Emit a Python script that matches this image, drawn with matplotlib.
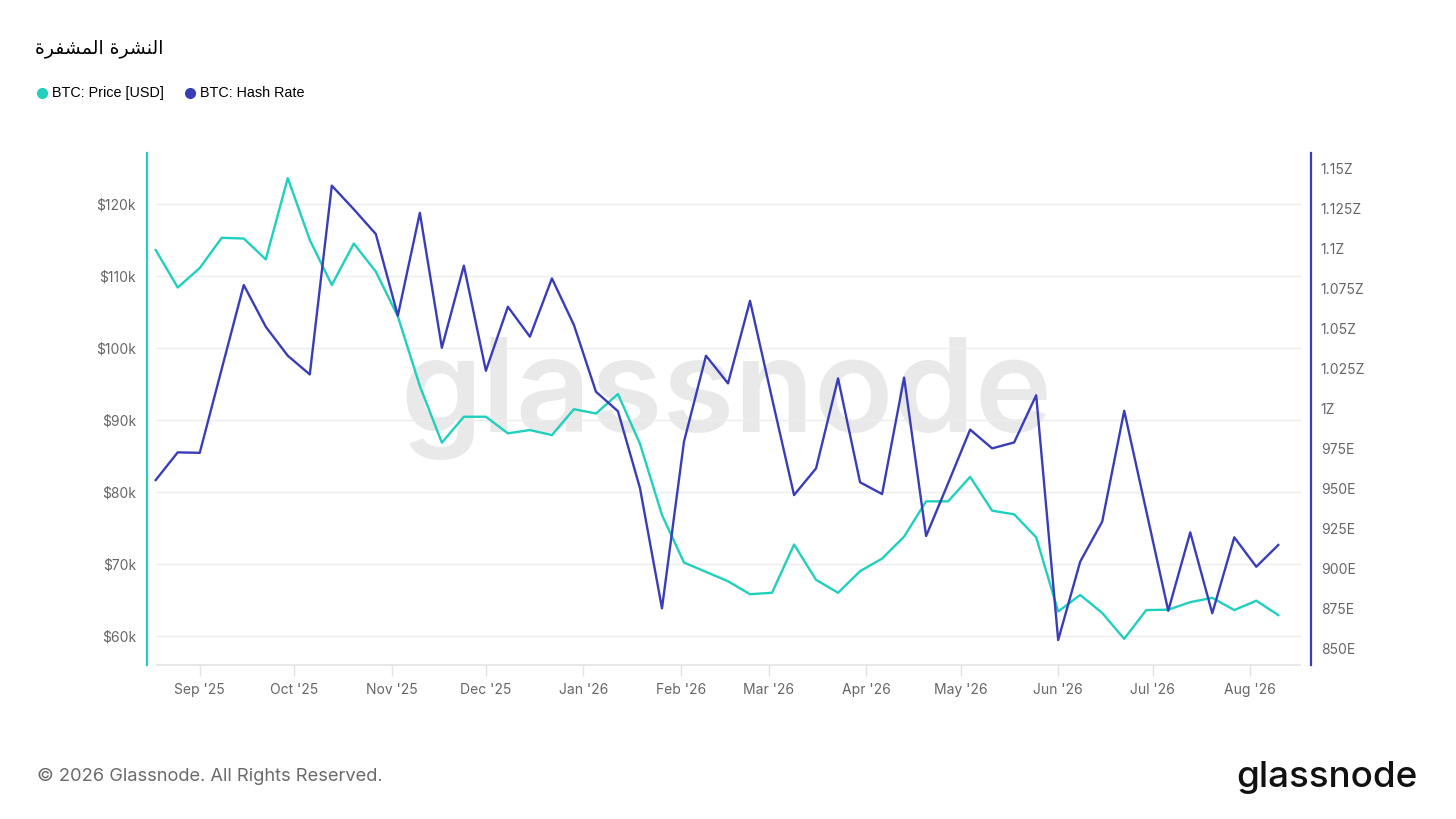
import numpy as np
import pandas as pd
import matplotlib
matplotlib.use("Agg")
import matplotlib.pyplot as plt
import matplotlib.dates as mdates
from matplotlib.ticker import FuncFormatter, MultipleLocator

# data (weekly)
title = "النشرة المشفرة"
series_names = ["BTC: Price [USD]", "BTC: Hash Rate"]
dates = pd.date_range("2025-08-18", periods=52, freq="7D")

# BTC price, thousands of USD
price_k = [113.6, 108.4, 111.1, 115.3, 115.2, 112.3, 123.6, 115.0, 108.75, 114.5,
           110.6, 104.4, 94.7, 86.85, 90.45, 90.45, 88.15, 88.6, 87.9, 91.5,
           90.9, 93.6, 86.7, 76.8, 70.2, 68.9, 67.6, 65.8, 66.0, 72.7,
           67.8, 66.0, 69.0, 70.75, 73.8, 78.7, 78.7, 82.1, 77.4, 76.9,
           73.7, 63.4, 65.7, 63.2, 59.6, 63.6, 63.65, 64.7, 65.3, 63.6,
           64.9, 62.9]

# hash rate, EH/s
hash_e = [955, 972.3, 972, 1024.5, 1076.9, 1050.8, 1032.7, 1021, 1139, 1124.2,
          1108.75, 1057.7, 1122, 1037.7, 1089, 1023.3, 1063.3, 1044.6, 1081, 1051.9,
          1010.2, 998, 950, 874.8, 979, 1032.7, 1015.4, 1067, 1006, 945.6,
          962.3, 1018.5, 953.6, 946.25, 1019, 920, 953, 986.5, 974.8, 978.5,
          1008, 855, 904, 929, 998.3, 935.8, 873.3, 922.3, 871.7, 919.2,
          900.8, 914.4]

price_ticks = [60, 70, 80, 90, 100, 110, 120]
hash_ticks = list(range(850, 1151, 25))

TEAL = "#1fd0bd"
BLUE = "#3a3db8"
GRID = "#ededed"
TICKC = "#666666"


# matplotlib has no arabic shaping, so pick presentation forms by hand
FORMS = {
    # isolated, final, initial, medial
    'ا': ('\uFE8D', '\uFE8E', None, None),
    'ل': ('\uFEDD', '\uFEDE', '\uFEDF', '\uFEE0'),
    'ن': ('\uFEE5', '\uFEE6', '\uFEE7', '\uFEE8'),
    'ش': ('\uFEB5', '\uFEB6', '\uFEB7', '\uFEB8'),
    'ر': ('\uFEAD', '\uFEAE', None, None),
    'ة': ('\uFE93', '\uFE94', None, None),
    'م': ('\uFEE1', '\uFEE2', '\uFEE3', '\uFEE4'),
    'ف': ('\uFED1', '\uFED2', '\uFED3', '\uFED4'),
}


def shape_arabic(s):
    out = []
    for i, c in enumerate(s):
        if c not in FORMS:
            out.append(c)
            continue
        prev = s[i - 1] if i > 0 else None
        nxt = s[i + 1] if i < len(s) - 1 else None
        join_prev = prev in FORMS and FORMS[prev][2] is not None
        join_next = FORMS[c][2] is not None and nxt in FORMS
        if join_prev and join_next:
            out.append(FORMS[c][3])
        elif join_prev:
            out.append(FORMS[c][1])
        elif join_next:
            out.append(FORMS[c][2])
        else:
            out.append(FORMS[c][0])
    return "".join(out)[::-1]


W, H = 1456, 819
fig = plt.figure(figsize=(W / 100, H / 100), dpi=100)
fig.patch.set_facecolor("white")

# plot box in pixels: left 147, right 1311, top 153, bottom 665
ax = fig.add_axes([147 / W, 1 - 665 / H, (1311 - 147) / W, (665 - 153) / H])
ax2 = ax.twinx()

day = pd.Timedelta(days=1)
x0 = dates[0] - 2.77 * day
x1 = dates[-1] + 10.4 * day
grid_end = dates[-1] + 7.1 * day

ax.set_xlim(x0, x1)
ax.set_ylim(55.97, 127.08)
ax2.set_ylim(839.4, 1159.4)

# watermark under the lines
ax.text(0.498, 0.52, "glassnode", transform=ax.transAxes, ha="center", va="center",
        fontsize=94, fontfamily="Inter", fontweight="semibold", color="#e9e9e9", zorder=0)

for v in price_ticks:
    ax.hlines(v, dates[0], grid_end, color=GRID, lw=1, zorder=1)
ax.hlines(ax.get_ylim()[0], dates[0], grid_end, color="#e3e3e3", lw=1.2, zorder=1, clip_on=False)

ax.plot(dates, price_k, color=TEAL, lw=1.7, zorder=3)
ax2.plot(dates, hash_e, color=BLUE, lw=1.7, zorder=3)

# spines
for s in ["top", "right", "bottom"]:
    ax.spines[s].set_visible(False)
ax.spines["left"].set_color(TEAL)
ax.spines["left"].set_linewidth(1.6)
for s in ["top", "left", "bottom"]:
    ax2.spines[s].set_visible(False)
ax2.spines["right"].set_color(BLUE)
ax2.spines["right"].set_linewidth(1.6)

# x axis
ax.xaxis.set_major_locator(mdates.MonthLocator())
ax.xaxis.set_major_formatter(mdates.DateFormatter("%b '%y"))
ax.tick_params(axis="x", length=8, width=1, color="#e3e3e3", pad=5,
               labelsize=10, labelcolor=TICKC)

# y axes
ax.set_yticks(price_ticks)
ax.yaxis.set_major_formatter(FuncFormatter(lambda v, p: f"${v:g}k"))
ax.tick_params(axis="y", length=0, pad=8, labelsize=10, labelcolor=TICKC)


def hash_fmt(v, p):
    if v >= 1000:
        return f"{v / 1000:g}Z"
    return f"{v:g}E"


ax2.set_yticks(hash_ticks)
ax2.yaxis.set_major_formatter(FuncFormatter(hash_fmt))
ax2.tick_params(axis="y", length=0, pad=7, labelsize=10, labelcolor=TICKC)

for lab in ax.get_xticklabels() + ax.get_yticklabels() + ax2.get_yticklabels():
    lab.set_fontfamily("Inter")

# title, legend and footer on a pixel overlay
ov = fig.add_axes([0, 0, 1, 1], facecolor="none")
ov.set_xlim(0, W)
ov.set_ylim(H, 0)
ov.axis("off")

ov.text(35, 48, shape_arabic(title), fontsize=13.5, fontfamily="DejaVu Sans",
        color="black", ha="left", va="center")

ov.plot([42], [93], "o", color=TEAL, ms=7)
ov.text(52, 93, series_names[0], fontsize=10.4, fontfamily="Liberation Sans", va="center")
ov.plot([190], [93], "o", color=BLUE, ms=7)
ov.text(200, 93, series_names[1], fontsize=10.4, fontfamily="Liberation Sans", va="center")

ov.text(37, 776, "© 2026 Glassnode. All Rights Reserved.", fontsize=13.2,
        fontfamily="Inter", color="#6b6b6b", va="center")
ov.text(1418, 777, "glassnode", fontsize=26.5, fontfamily="Inter", fontweight="medium",
        color="#111111", ha="right", va="center")

fig.savefig("out.png", dpi=100, facecolor="white")
